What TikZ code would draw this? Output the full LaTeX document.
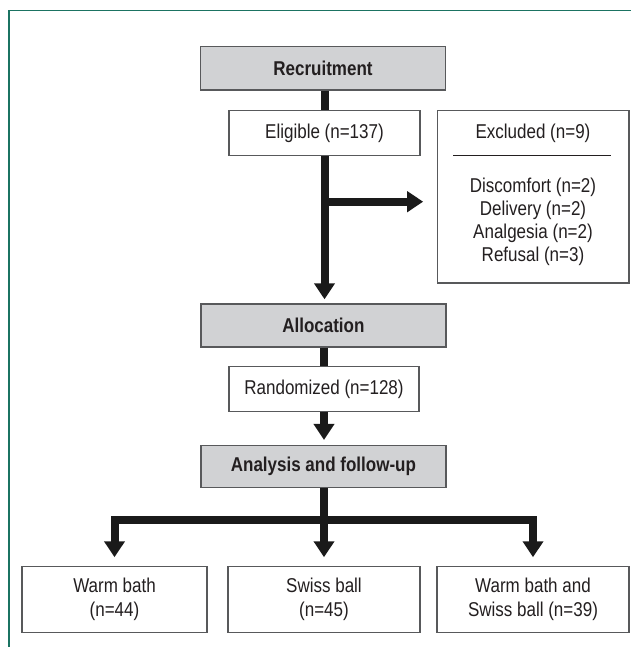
\documentclass[tikz,border=0pt]{standalone}
\usepackage{fontspec}
\setmainfont{Liberation Sans}[FakeStretch=0.85]
\usetikzlibrary{arrows.meta,calc}
\definecolor{framec}{HTML}{1B7362}
\definecolor{boxgray}{HTML}{D1D2D4}
\definecolor{edgec}{HTML}{58595B}
\definecolor{inkc}{HTML}{231F20}
\definecolor{arrowc}{HTML}{1A1A1A}
\begin{document}
\begin{tikzpicture}[x=1pt,y=-1pt,
  font=\fontsize{20}{24}\selectfont,
  headbox/.style={draw=edgec,fill=boxgray,line width=1.5pt,minimum width=245pt,
    inner sep=0pt,text=inkc,font=\fontsize{20}{24}\selectfont\bfseries},
  wbox/.style={draw=edgec,fill=white,line width=1.5pt,inner sep=0pt,text=inkc,align=center},
  flow/.style={draw=arrowc,line width=8pt},
  flowarrow/.style={flow,-{Triangle[length=16pt,width=20pt]}},
]
\useasboundingbox (0,0) rectangle (630,647);
% frame
\coordinate (fa) at (9,648);
\coordinate (fb) at (9,10.7);
\coordinate (fc) at (631,10.7);
\draw[framec,line width=1.6pt,line join=miter] (fa) -- (fb) -- (fc);

% boxes
\node[headbox,minimum height=43.3pt] (rec) at (323,68.3) {Recruitment};
\node[wbox,minimum width=191pt,minimum height=45pt] (elig) at (324.5,133.2) {Eligible (n=137)};
\node[wbox,minimum width=191.3pt,minimum height=172.3pt] (excl) at (533.3,196.9) {};
\node[text=inkc] (exh) at (533,133.2) {Excluded (n=9)};
\coordinate (sepl) at (453,155.7);
\coordinate (sepr) at (611,155.7);
\draw[inkc,line width=1.2pt] (sepl) -- (sepr);
\node[text=inkc,align=center,font=\fontsize{20}{23}\selectfont] (exl) at (533,221.5)
  {Discomfort (n=2)\\Delivery (n=2)\\Analgesia (n=2)\\Refusal (n=3)};
\node[headbox,minimum height=42.7pt] (alloc) at (323.4,325.4) {Allocation};
\node[wbox,minimum width=190pt,minimum height=45pt] (rand) at (324,389.2) {Randomized (n=128)};
\node[headbox,minimum height=41.6pt] (anal) at (323.4,466.5) {Analysis and follow-up};
\node[wbox,minimum width=185pt,minimum height=66pt] (b1) at (114.5,599.7) {Warm bath\\(n=44)};
\node[wbox,minimum width=192pt,minimum height=66pt] (b2) at (324,599.7) {Swiss ball\\(n=45)};
\node[wbox,minimum width=192pt,minimum height=66pt] (b3) at (533,599.7) {Warm bath and\\Swiss ball (n=39)};

% connectors
\draw[flow] (rec.south -| elig.north) -- (elig.north);
\draw[flowarrow,shorten >=4pt] (elig.south) -- (elig.south |- alloc.north);
\coordinate (br) at (324.5,201.7);
\draw[flowarrow,shorten >=13.7pt] (br) -- (br -| excl.west);
\draw[flow] (alloc.south -| rand.north) -- (rand.north);
\draw[flowarrow,shorten >=5pt] (rand.south) -- (rand.south |- anal.north);
\coordinate (bj) at (324,520);
\draw[flow] (anal.south -| bj) -- (bj);
\draw[flowarrow,line join=miter,shorten >=8.7pt] (bj) -| (b1.north);
\draw[flowarrow,line join=miter,shorten >=8.7pt] (bj) -| (b3.north);
\draw[flowarrow,shorten >=8.7pt] (bj) -- (b2.north);
\end{tikzpicture}
\end{document}
